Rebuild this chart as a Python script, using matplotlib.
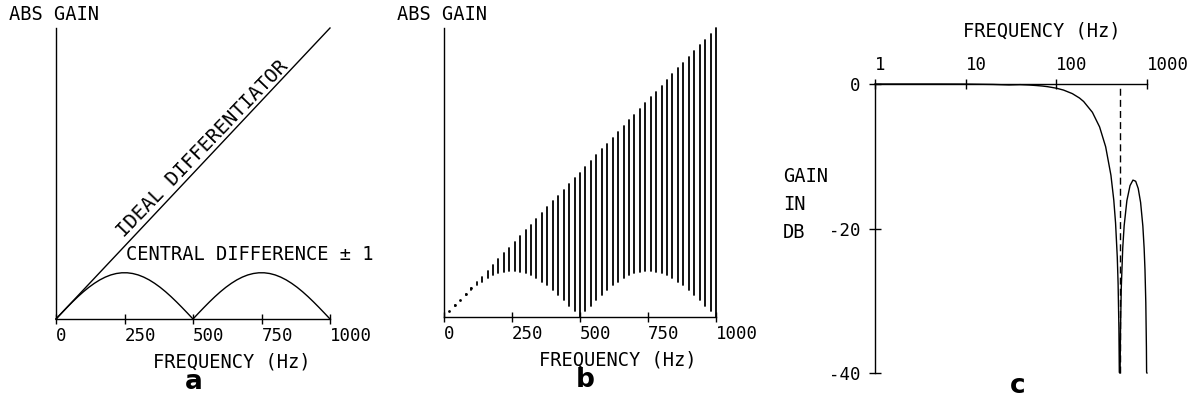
import matplotlib
matplotlib.use("Agg")
import matplotlib.pyplot as plt

# ---------------- data ----------------
# Panel a / b : frequency grid (Hz) and central-difference (+/-1) gain,
# expressed in the same units as the ideal differentiator (gain = frequency)
CD_FREQ = [0, 20, 40, 60, 80, 100, 120, 140, 160, 180, 200, 220, 240, 260, 280,
           300, 320, 340, 360, 380, 400, 420, 440, 460, 480, 500, 520, 540, 560,
           580, 600, 620, 640, 660, 680, 700, 720, 740, 760, 780, 800, 820, 840,
           860, 880, 900, 920, 940, 960, 980, 1000]
CD_GAIN = [0, 20.0, 39.6, 58.6, 76.7, 93.6, 109.0, 122.6, 134.4, 144.0, 151.4,
           156.3, 158.8, 158.8, 156.3, 151.4, 144.0, 134.4, 122.6, 109.0, 93.6,
           76.7, 58.6, 39.6, 20.0, 0, 20.0, 39.6, 58.6, 76.7, 93.6, 109.0, 122.6,
           134.4, 144.0, 151.4, 156.3, 158.8, 158.8, 156.3, 151.4, 144.0, 134.4,
           122.6, 109.0, 93.6, 76.7, 58.6, 39.6, 20.0, 0]
IDEAL_FREQ = [0, 1000]
IDEAL_GAIN = [0, 1000]
# panel b: stem tops follow the ideal differentiator (gain equals frequency)
STEM_TOP = [0, 20, 40, 60, 80, 100, 120, 140, 160, 180, 200, 220, 240, 260, 280,
            300, 320, 340, 360, 380, 400, 420, 440, 460, 480, 500, 520, 540, 560,
            580, 600, 620, 640, 660, 680, 700, 720, 740, 760, 780, 800, 820, 840,
            860, 880, 900, 920, 940, 960, 980, 1000]

LIN_TICKS = [0, 250, 500, 750, 1000]
LIN_TICK_LABELS = ["0", "250", "500", "750", "1000"]

# Panel c : gain in dB vs frequency (log axis), clipped at -40 dB
C_FREQ = [1, 2, 5, 10, 20, 30, 40, 50, 60, 70, 80, 100, 120, 150, 180, 200,
          250, 300, 350, 400, 430, 450, 470, 480, 490, 495, 500, 505, 510, 520,
          540, 560, 600, 650, 700, 750, 800, 850, 900, 930, 950, 970, 985, 990,
          1000]
C_GAIN_DB = [0, 0, 0, -0.01, -0.06, -0.13, -0.09, -0.14, -0.21, -0.28, -0.37,
             -0.58, -0.84, -1.33, -1.94, -2.42, -3.92, -5.94, -8.69, -12.62,
             -16.05, -19.23, -23.95, -27.63, -33.81, -39.9, -40, -40, -34.2,
             -28.3, -22.7, -19.6, -16.14, -14.06, -13.30, -13.46, -14.46, -16.39,
             -19.66, -22.75, -25.7, -30.24, -36.4, -39.9, -40]
NOTCH_FREQ = 500
C_XTICKS = [1, 10, 100, 1000]
C_XTICK_LABELS = ["1", "10", "100", "1000"]
C_YTICKS = [0, -20, -40]
C_YTICK_LABELS = ["0", "-20", "-40"]

# ---------------- style ----------------
plt.rcParams['axes.unicode_minus'] = False
MONO = "DejaVu Sans Mono"
FS = 13.5
TFS = 12.5
LW = 1.0
W, H = 1195, 399

fig = plt.figure(figsize=(W / 100, H / 100), dpi=100)


def rect(x0, y0, x1, y1):
    # pixel box (top-left origin) -> figure fraction
    return [x0 / W, (H - y1) / H, (x1 - x0) / W, (y1 - y0) / H]


def ftext(x, y, s, **kw):
    kw.setdefault("family", MONO)
    kw.setdefault("fontsize", FS)
    fig.text(x / W, 1 - y / H, s, **kw)


def style_lin(ax):
    ax.set_xlim(0, 1000)
    ax.set_ylim(0, 1000)
    for s in ("top", "right"):
        ax.spines[s].set_visible(False)
    for s in ("left", "bottom"):
        ax.spines[s].set_linewidth(LW)
    ax.set_yticks([])
    ax.set_xticks(LIN_TICKS, LIN_TICK_LABELS)
    ax.tick_params(axis="x", direction="inout", length=7, width=LW, pad=2,
                   labelsize=TFS)
    for lab in ax.get_xticklabels():
        lab.set_family(MONO)
        lab.set_horizontalalignment("left")
    ax.patch.set_visible(False)


# ---------------- panel a ----------------
axa = fig.add_axes(rect(56, 28, 330, 319))
style_lin(axa)
axa.plot(IDEAL_FREQ, IDEAL_GAIN, color="black", lw=LW, clip_on=False)
axa.plot(CD_FREQ, CD_GAIN, color="black", lw=LW, clip_on=False)
axa.text(535, 585, "IDEAL DIFFERENTIATOR", rotation=46, ha="center",
         va="center", family=MONO, fontsize=14.2)
axa.text(255, 220, "CENTRAL DIFFERENCE \u00b1 1", ha="left", va="center",
         family=MONO, fontsize=FS)
ftext(9, 15, "ABS GAIN", ha="left", va="center")
ftext(232, 362, "FREQUENCY (Hz)", ha="center", va="center")
ftext(194, 382, "a", ha="center", va="center", family="DejaVu Sans",
      fontweight="bold", fontsize=19)

# ---------------- panel b ----------------
axb = fig.add_axes(rect(444, 28, 716, 317))
style_lin(axb)
vl = axb.vlines(CD_FREQ[1:], CD_GAIN[1:], STEM_TOP[1:], color="black", lw=1.3,
                clip_on=False)
vl.set_capstyle("round")
# the shortest stems (low frequencies) show up as dots
axb.plot(CD_FREQ[1:6], STEM_TOP[1:6], linestyle="none", marker="o", ms=2.0,
         mew=0, color="black", clip_on=False)
ftext(397, 15, "ABS GAIN", ha="left", va="center")
ftext(618, 360, "FREQUENCY (Hz)", ha="center", va="center")
ftext(585, 380, "b", ha="center", va="center", family="DejaVu Sans",
      fontweight="bold", fontsize=19)

# ---------------- panel c ----------------
axc = fig.add_axes(rect(875, 84, 1147, 373))
axc.set_xscale("log")
axc.set_xlim(1, 1000)
axc.set_ylim(-40, 0)
for s in ("bottom", "right"):
    axc.spines[s].set_visible(False)
for s in ("left", "top"):
    axc.spines[s].set_linewidth(LW)
axc.xaxis.tick_top()
axc.set_xticks(C_XTICKS, C_XTICK_LABELS)
axc.xaxis.set_minor_locator(matplotlib.ticker.NullLocator())
axc.set_yticks(C_YTICKS, C_YTICK_LABELS)
axc.tick_params(axis="x", direction="inout", length=7, width=LW, pad=4,
                labelsize=TFS)
axc.tick_params(axis="y", direction="inout", length=9, width=LW, pad=6,
                labelsize=TFS)
for lab in axc.get_xticklabels():
    lab.set_family(MONO)
    lab.set_horizontalalignment("left")
for lab in axc.get_yticklabels():
    lab.set_family(MONO)
axc.patch.set_visible(False)
axc.plot(C_FREQ, C_GAIN_DB, color="black", lw=LW, clip_on=False)
axc.vlines([NOTCH_FREQ], -40, 0, color="black", lw=LW,
           linestyles=(0, (5, 3)), clip_on=False)
ftext(1042, 31, "FREQUENCY (Hz)", ha="center", va="center")
ftext(783, 177, "GAIN", ha="left", va="center")
ftext(783, 205, "IN", ha="left", va="center")
ftext(783, 233, "DB", ha="left", va="center")
ftext(1018, 386, "c", ha="center", va="center", family="DejaVu Sans",
      fontweight="bold", fontsize=19)

fig.savefig("out.png", dpi=100)
